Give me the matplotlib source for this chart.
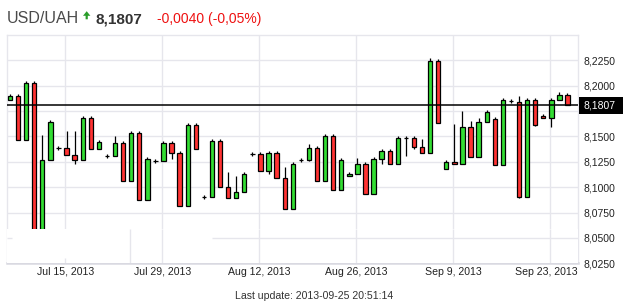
import matplotlib
matplotlib.use("Agg")
import matplotlib.pyplot as plt
from matplotlib.patches import Rectangle, Polygon

plt.rcParams["font.family"] = ["Liberation Sans", "DejaVu Sans"]

# daily USD/UAH candles
OPEN = [8.1857, 8.1896, 8.1464, 8.2024, 8.0450, 8.1267, 8.1385, 8.1385, 8.1316, 8.1267,
        8.1680, 8.1375, 8.1306, 8.1306, 8.1434, 8.1060, 8.1532, 8.0874, 8.1257, 8.1257,
        8.1434, 8.1336, 8.0818, 8.1611, 8.0906, 8.0906, 8.1450, 8.1005, 8.0893, 8.0949,
        8.1326, 8.1326, 8.1159, 8.1336, 8.1090, 8.0782, 8.1267, 8.1267, 8.1385, 8.1060,
        8.1503, 8.0972, 8.1110, 8.1129, 8.1228, 8.0933, 8.1277, 8.1355, 8.1228, 8.1483,
        8.1483, 8.1395, 8.1336, 8.2240, 8.1178, 8.1247, 8.1228, 8.1591, 8.1296, 8.1644,
        8.1673, 8.1218, 8.1850, 8.1834, 8.0906, 8.1857, 8.1703, 8.1683, 8.1857, 8.1903]
HIGH = [8.1916, 8.1916, 8.2044, 8.2044, 8.1513, 8.1663, 8.1405, 8.1555, 8.1555, 8.1700,
        8.1700, 8.1464, 8.1326, 8.1503, 8.1454, 8.1552, 8.1552, 8.1296, 8.1277, 8.1454,
        8.1454, 8.1355, 8.1631, 8.1631, 8.0926, 8.1470, 8.1470, 8.1149, 8.1110, 8.1146,
        8.1346, 8.1346, 8.1355, 8.1355, 8.1201, 8.1247, 8.1287, 8.1424, 8.1405, 8.1523,
        8.1523, 8.1287, 8.1149, 8.1290, 8.1247, 8.1297, 8.1375, 8.1375, 8.1503, 8.1503,
        8.1503, 8.1470, 8.2270, 8.2260, 8.1267, 8.1624, 8.1752, 8.1651, 8.1683, 8.1762,
        8.1693, 8.1877, 8.1870, 8.1896, 8.1877, 8.1877, 8.1723, 8.1877, 8.1932, 8.1922]
LOW = [8.1857, 8.1464, 8.1464, 8.0400, 8.0400, 8.1267, 8.1365, 8.1316, 8.1224, 8.1267,
       8.1375, 8.1375, 8.1286, 8.1306, 8.1060, 8.1060, 8.0874, 8.0874, 8.1237, 8.1257,
       8.1277, 8.0818, 8.0818, 8.1375, 8.0886, 8.0906, 8.1005, 8.0893, 8.0893, 8.0949,
       8.1306, 8.1159, 8.1126, 8.1090, 8.0782, 8.0782, 8.1247, 8.1254, 8.1060, 8.1060,
       8.0972, 8.0972, 8.1110, 8.1129, 8.0933, 8.0933, 8.1228, 8.1228, 8.1228, 8.1306,
       8.1375, 8.1336, 8.1336, 8.1634, 8.1178, 8.1228, 8.1228, 8.1296, 8.1296, 8.1644,
       8.1218, 8.1218, 8.1830, 8.0893, 8.0906, 8.1598, 8.1683, 8.1588, 8.1857, 8.1807]
CLOSE = [8.1896, 8.1464, 8.2024, 8.0450, 8.1267, 8.1644, 8.1385, 8.1316, 8.1267, 8.1680,
         8.1375, 8.1444, 8.1306, 8.1434, 8.1060, 8.1532, 8.0874, 8.1277, 8.1257, 8.1434,
         8.1336, 8.0818, 8.1611, 8.1375, 8.0906, 8.1450, 8.1005, 8.0893, 8.0949, 8.1129,
         8.1326, 8.1159, 8.1336, 8.1090, 8.0782, 8.1228, 8.1267, 8.1385, 8.1060, 8.1503,
         8.0972, 8.1267, 8.1129, 8.1228, 8.0933, 8.1277, 8.1355, 8.1228, 8.1483, 8.1483,
         8.1395, 8.1336, 8.2240, 8.1634, 8.1247, 8.1228, 8.1591, 8.1296, 8.1644, 8.1742,
         8.1218, 8.1857, 8.1850, 8.0906, 8.1857, 8.1608, 8.1683, 8.1857, 8.1903, 8.1807]
LAST = 8.1807
GRID_Y = [8.025, 8.05, 8.075, 8.1, 8.125, 8.15, 8.175, 8.2, 8.225]
Y_LABELED = [8.025, 8.05, 8.075, 8.1, 8.125, 8.15, 8.2, 8.225]  # 8,1750 sits under the price box
DATE_LABELS = ["Jul 15, 2013", "Jul 29, 2013", "Aug 12, 2013",
               "Aug 26, 2013", "Sep 9, 2013", "Sep 23, 2013"]

W, H = 630, 303
UP, DOWN = "#33dd33", "#ff3333"
GRID = "#e6e6ec"
TXT = "#222222"


def fx(px):
    return px / W


def fy(py):
    return 1 - py / H


fig = plt.figure(figsize=(W / 100, H / 100), dpi=100)
ax = fig.add_axes([fx(7.3), fy(263.3), fx(578) - fx(7.3), fy(34.7) - fy(263.3)])
x0, x1 = -0.33, 70.3
y0, y1 = 8.025, 8.25
ax.set_xlim(x0, x1)
ax.set_ylim(y0, y1)
clip = 8.0588  # candles are hidden below this level

grid_x = [6.85 + 12 * k for k in range(6)]
ax.hlines([v for v in GRID_Y if v > 8.06], x0, x1, color=GRID, lw=1.0, zorder=1)
ax.vlines(grid_x, clip, y1, color=GRID, lw=1.0, zorder=1)

for i, (o, h, l, c) in enumerate(zip(OPEN, HIGH, LOW, CLOSE)):
    ax.vlines(i, l, h, color="black", lw=0.9, zorder=2)
    col = UP if c >= o else DOWN
    bot = min(o, c)
    ax.add_patch(Rectangle((i - 0.27, bot), 0.54, abs(c - o), facecolor=col,
                           edgecolor="black", lw=0.9, zorder=3))

# lower band covers the candles
ax.add_patch(Rectangle((x0, y0), x1 - x0, clip - y0, facecolor="white",
                       edgecolor="none", zorder=4))
ax.hlines(8.05, x0, 0.25, color=GRID, lw=1.0, zorder=5)
ax.hlines(8.05, 25.0, x1, color=GRID, lw=1.0, zorder=5)
ax.vlines([14.9] + grid_x[1:], y0, clip, color=GRID, lw=1.0, zorder=5)
ax.vlines(grid_x[0], y0, 8.030, color=GRID, lw=1.0, zorder=5)

ax.axhline(LAST, color="black", lw=1.1, zorder=6)

for s in ["left", "top", "right"]:
    ax.spines[s].set_color(GRID)
    ax.spines[s].set_linewidth(1.0)
ax.spines["bottom"].set_color("#d9d9e1")
ax.spines["bottom"].set_linewidth(1.8)

ax.set_xticks([])
ax.set_yticks(Y_LABELED)
ax.set_yticklabels([f"{v:.4f}".replace(".", ",") for v in Y_LABELED])
ax.yaxis.tick_right()
ax.tick_params(axis="y", length=0, pad=4.3, labelsize=7.5, labelcolor=TXT)

xt = ax.get_xaxis_transform()
for k, lab in enumerate(DATE_LABELS):
    if k == len(DATE_LABELS) - 1:
        ax.text(x1, -0.038, lab, transform=xt, ha="right", va="center",
                fontsize=7.6, color=TXT)
    else:
        ax.text(grid_x[k], -0.038, lab, transform=xt, ha="center", va="center",
                fontsize=7.6, color=TXT)

# last price box
fig.patches.append(Rectangle((fx(579), fy(114)), fx(623) - fx(579), fy(97) - fy(114),
                             transform=fig.transFigure, facecolor="black",
                             edgecolor="none", zorder=2))
fig.text(fx(583.5), fy(105.5), f"{LAST:.4f}".replace(".", ","), color="white",
         fontsize=7.5, va="center", ha="left", zorder=3)

# header
fig.text(fx(7), fy(23), "USD/UAH", fontsize=11.5, color="#4a4a4a", va="baseline")
arrow = [(83, 15.8), (86.7, 11.2), (90.4, 15.8), (87.8, 15.8), (87.8, 19.3),
         (85.6, 19.3), (85.6, 15.8)]
fig.patches.append(Polygon([(fx(a), fy(b)) for a, b in arrow], closed=True,
                           transform=fig.transFigure, facecolor="#2a9d2a",
                           edgecolor="none"))
fig.text(fx(95), fy(23), f"{LAST:.4f}".replace(".", ","), fontsize=11,
         fontweight="bold", color="#333333", va="baseline")
fig.text(fx(157), fy(22.5), "-0,0040 (-0,05%)", fontsize=10, color="#ee1111",
         va="baseline")

fig.text(fx(314), fy(296), "Last update: 2013-09-25 20:51:14", fontsize=7.6,
         color="#333333", ha="center", va="center")

fig.savefig("out.png", dpi=100)
